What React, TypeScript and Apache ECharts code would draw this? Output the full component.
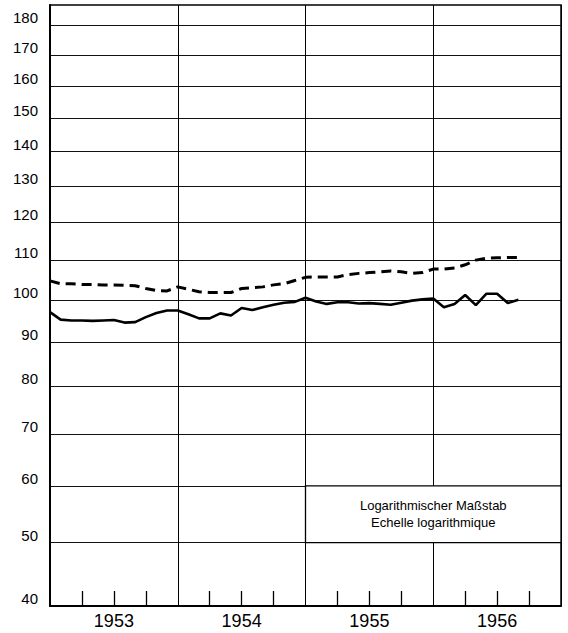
import React, { useEffect, useRef } from "react";
import * as echarts from "echarts";

// Tick labels of the y axis
const yTicks = [40, 50, 60, 70, 80, 90, 100, 110, 120, 130, 140, 150, 160, 170, 180];
const yMinValue = 40;
const yMaxValue = 187;
// Year labels (centred in each year), year boundaries, quarter ticks (month index from Jan 1953)
const years = ["1953", "1954", "1955", "1956"];
const yearLabelMonths = [6, 18, 30, 42];
const quarterTicks = [3, 6, 9, 15, 18, 21, 27, 30, 33, 39, 42, 45];
// Monthly values, Jan 1953 .. Sep 1956
const solidSeries = [
  97, 95.2, 95.0, 95.0, 94.9, 95.0, 95.1, 94.5, 94.6, 95.8, 96.8, 97.4,
  97.4, 96.5, 95.5, 95.5, 96.7, 96.2, 98.0, 97.5, 98.2, 98.8, 99.3, 99.5,
  100.5, 99.6, 99.0, 99.4, 99.4, 99.1, 99.2, 99.0, 98.8, 99.3, 99.8, 100.1,
  100.3, 98.2, 99.0, 101.2, 98.7, 101.5, 101.5, 99.2, 100,
];
const dashedSeries = [
  104.7, 104.0, 104.0, 103.8, 103.8, 103.7, 103.7, 103.6, 103.5, 102.8, 102.3, 102.2,
  103.2, 102.6, 102.0, 101.8, 101.8, 101.8, 102.8, 103.0, 103.2, 103.7, 104.0, 104.8,
  105.6, 105.7, 105.7, 105.7, 106.3, 106.6, 106.8, 107.0, 107.2, 107.0, 106.6, 106.8,
  107.7, 107.7, 108.0, 108.8, 110.0, 110.5, 110.6, 110.7, 110.7,
];
const noteLines = ["Logarithmischer Maßstab", "Echelle logarithmique"];
const noteRange = { fromMonth: 24, toMonth: 48, low: 50, high: 60 };

// Scale of the printed axis (compressed, close to a power scale)
const P = 0.45;
const tf = (v: number) => Math.pow(v, P);
const inv = (v: number) => Math.pow(v, 1 / P);

const FONT = "'Liberation Sans', Arial, Helvetica, sans-serif";

export default function App() {
  const ref = useRef<HTMLDivElement>(null);
  useEffect(() => {
    if (!ref.current) return;
    const chart = echarts.init(ref.current, null, { renderer: "svg" });
    const tickVals = yTicks.map(tf);
    chart.setOption({
      animation: false,
      backgroundColor: "#fff",
      grid: {
        left: 50,
        right: 7,
        top: 5,
        bottom: 27,
        show: true,
        borderColor: "#000",
        borderWidth: 1.5,
        backgroundColor: "transparent",
      },
      xAxis: [
        {
          type: "value",
          min: 0,
          max: 48,
          interval: 12,
          axisLine: { show: true, lineStyle: { color: "#000", width: 2 } },
          axisTick: { show: false },
          splitLine: { show: true, lineStyle: { color: "#000", width: 1 } },
          axisLabel: {
            customValues: yearLabelMonths,
            formatter: (v: number) => years[Math.round((v - 6) / 12)] ?? "",
            color: "#000",
            fontSize: 18,
            fontFamily: FONT,
            margin: 6,
          },
        },
        {
          type: "value",
          min: 0,
          max: 48,
          position: "bottom",
          axisLine: { show: false },
          axisLabel: { show: false },
          splitLine: { show: false },
          axisTick: {
            show: true,
            inside: true,
            length: 15,
            customValues: quarterTicks,
            lineStyle: { color: "#000", width: 1.3 },
          },
        },
      ],
      yAxis: {
        type: "value",
        min: tf(yMinValue),
        max: tf(yMaxValue),
        axisLine: { show: true, lineStyle: { color: "#000", width: 2 } },
        axisTick: { show: false, customValues: tickVals },
        splitLine: { show: true, lineStyle: { color: "#111", width: 1 } },
        axisLabel: {
          customValues: tickVals,
          formatter: (v: number) => String(Math.round(inv(v) / 10) * 10),
          color: "#000",
          fontSize: 15,
          fontFamily: FONT,
          margin: 12,
          verticalAlign: "bottom",
        },
      },
      series: [
        {
          type: "line",
          xAxisIndex: 0,
          data: solidSeries.map((v, i) => [i, tf(v)]),
          showSymbol: false,
          symbol: "none",
          lineStyle: { color: "#000", width: 2.6 },
          z: 5,
          markArea: {
            silent: true,
            itemStyle: { color: "#fff", borderColor: "#000", borderWidth: 1.3 },
            label: {
              show: true,
              position: "inside",
              formatter: noteLines.join("\n"),
              color: "#000",
              fontSize: 13,
              lineHeight: 17,
              fontFamily: FONT,
              align: "center",
            },
            data: [
              [
                { xAxis: noteRange.fromMonth, yAxis: tf(noteRange.high) },
                { xAxis: noteRange.toMonth, yAxis: tf(noteRange.low) },
              ],
            ],
          },
        },
        {
          type: "line",
          xAxisIndex: 0,
          data: dashedSeries.map((v, i) => [i, tf(v)]),
          showSymbol: false,
          symbol: "none",
          lineStyle: { color: "#000", width: 3, type: [10, 6] },
          z: 5,
        },
      ],
    });
    return () => chart.dispose();
  }, []);
  return (
    <div
      ref={ref}
      style={{ position: "fixed", left: 0, top: 0, width: 568, height: 633, background: "#fff" }}
    />
  );
}
